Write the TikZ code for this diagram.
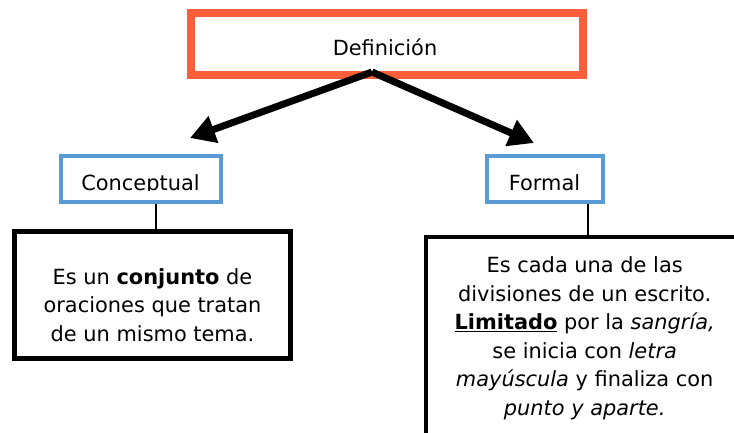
\documentclass[tikz,border=0pt]{standalone}
\usepackage{fontspec}
\setmainfont{DejaVu Sans}
\usetikzlibrary{arrows.meta}
\definecolor{defred}{HTML}{FF5E3A}
\definecolor{catblue}{HTML}{5B9BD5}
\begin{document}
\begin{tikzpicture}[x=1pt,y=-1pt,
  txt/.style={font=\fontsize{20.9}{28.5}\selectfont, inner sep=0pt},
  defbox/.style={draw=defred, line width=7.5pt, minimum width=392pt, minimum height=62pt, inner sep=0pt},
  catbox/.style={draw=catblue, line width=4pt, inner sep=0pt},
  parabox/.style={draw=black, line width=4.5pt, inner sep=0pt},
  arr/.style={line width=7pt, -{Triangle[length=25pt,width=27pt]}},
  link/.style={line width=2pt}]
\clip (0,0) rectangle (734,432);
% title
\node[defbox] (def) at (387,44) {};
\node[txt, anchor=base] (deftext) at (385,55) {Definición};
% arrows
\coordinate (top) at (372,72);
\coordinate (lt) at (190,138);
\coordinate (rt) at (534,143);
\draw[arr] (top) -- (lt);
\draw[arr] (top) -- (rt);
% category boxes
\node[catbox, minimum width=160pt, minimum height=46pt] (cbox) at (141,179) {};
\node[catbox, minimum width=116pt, minimum height=46pt] (fbox) at (545,179) {};
\begin{scope}
  \clip (60,150) rectangle (225,190.8);
  \node[txt, anchor=base] (ctext) at (140.5,190) {Conceptual};
\end{scope}
\begin{scope}
  \clip (480,150) rectangle (610,190.8);
  \node[txt, anchor=base] (ftext) at (544.5,190) {Formal};
\end{scope}
% paragraph boxes
\node[parabox, minimum width=276pt, minimum height=127pt] (cpara) at (152.5,295) {};
\node[parabox, minimum width=317pt, minimum height=222pt] (fpara) at (584.5,348) {};
\node[txt, align=center] (cptext) at (152.5,305) {Es un \textbf{conjunto} de\\oraciones que tratan\\de un mismo tema.};
\node[txt, align=center] (fptext) at (584.7,338) {Es cada una de las\\divisiones de un escrito.\\\underline{\textbf{Limitado}} por la \textit{sangría,}\\se inicia con \textit{letra}\\\textit{mayúscula} y finaliza con\\\textit{punto y aparte.}};
% links
\coordinate (cx) at (156,0);
\coordinate (fx) at (588,0);
\draw[link] (cbox.south -| cx) -- (cpara.north -| cx);
\draw[link] (fbox.south -| fx) -- (fpara.north -| fx);
\end{tikzpicture}
\end{document}
